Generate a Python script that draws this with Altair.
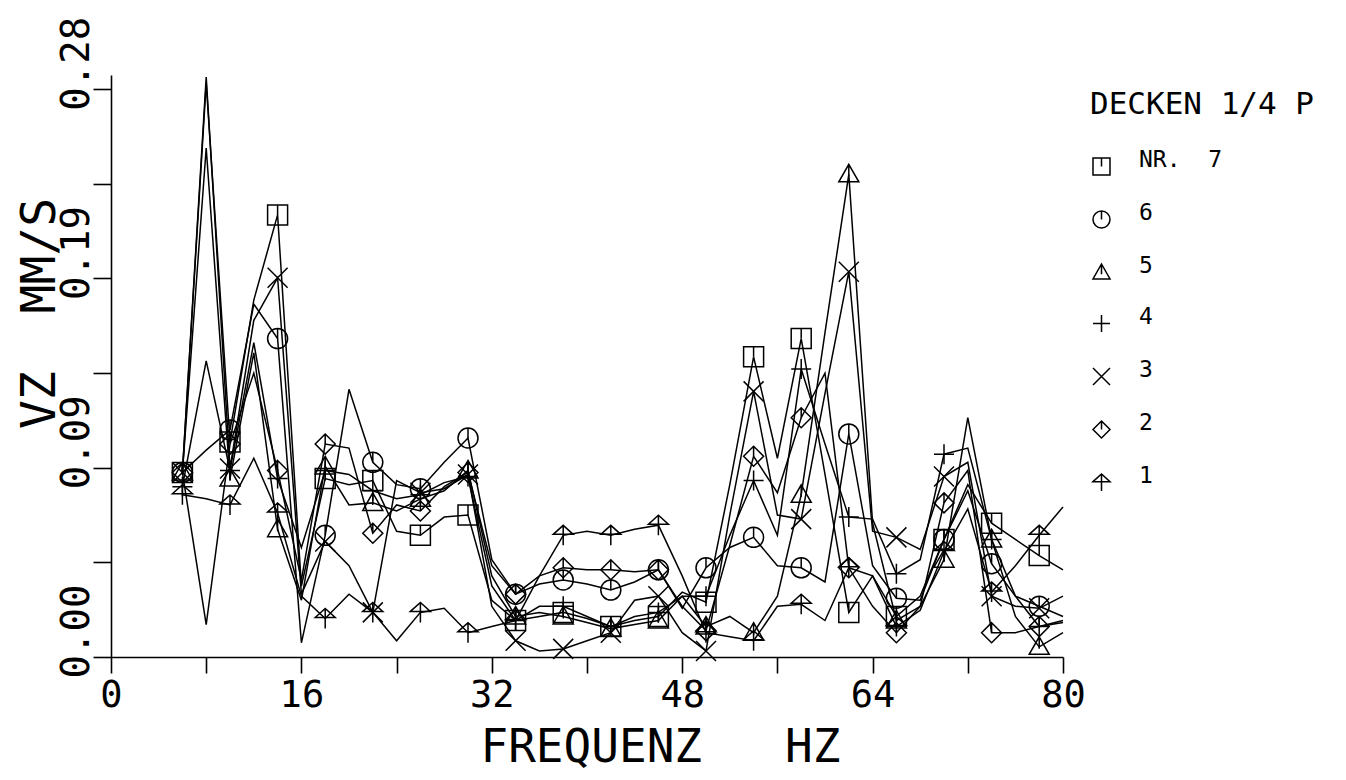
import altair as alt
import pandas as pd

# Frequencies (Hz) of the measured points
FREQ = list(range(6, 81, 2))

# VZ (mm/s) per measurement point NR. 1..7, one value per frequency above
NR1 = [0.080, 0.078, 0.075, 0.098, 0.071, 0.030, 0.019, 0.031, 0.022, 0.008,
       0.022, 0.024, 0.012, 0.015, 0.018, 0.040, 0.060, 0.062, 0.060, 0.063,
       0.065, 0.040, 0.012, 0.010, 0.008, 0.025, 0.026, 0.018, 0.044, 0.040,
       0.015, 0.023, 0.052, 0.073, 0.032, 0.045, 0.060, 0.074]
NR2 = [0.091, 0.016, 0.105, 0.140, 0.092, 0.038, 0.105, 0.103, 0.061, 0.075,
       0.072, 0.084, 0.091, 0.045, 0.031, 0.040, 0.044, 0.043, 0.043, 0.042,
       0.043, 0.025, 0.013, 0.055, 0.099, 0.081, 0.118, 0.140, 0.044, 0.025,
       0.012, 0.025, 0.076, 0.092, 0.012, 0.012, 0.015, 0.017]
NR3 = [0.091, 0.286, 0.093, 0.166, 0.187, 0.031, 0.057, 0.045, 0.022, 0.087,
       0.081, 0.083, 0.090, 0.025, 0.008, 0.003, 0.004, 0.008, 0.012, 0.028,
       0.030, 0.012, 0.003, 0.070, 0.131, 0.070, 0.068, 0.130, 0.190, 0.062,
       0.059, 0.053, 0.089, 0.096, 0.030, 0.025, 0.024, 0.030]
NR4 = [0.084, 0.146, 0.092, 0.155, 0.088, 0.054, 0.092, 0.090, 0.082, 0.078,
       0.080, 0.086, 0.089, 0.035, 0.018, 0.025, 0.025, 0.020, 0.015, 0.020,
       0.022, 0.030, 0.030, 0.060, 0.087, 0.060, 0.142, 0.105, 0.069, 0.068,
       0.041, 0.048, 0.100, 0.103, 0.058, 0.030, 0.015, 0.018]
NR5 = [0.091, 0.251, 0.088, 0.150, 0.063, 0.028, 0.094, 0.075, 0.076, 0.072,
       0.078, 0.082, 0.092, 0.040, 0.020, 0.022, 0.020, 0.017, 0.014, 0.016,
       0.018, 0.030, 0.015, 0.020, 0.012, 0.030, 0.080, 0.160, 0.238, 0.066,
       0.018, 0.025, 0.048, 0.118, 0.058, 0.020, 0.005, 0.012]
NR6 = [0.091, 0.102, 0.112, 0.174, 0.157, 0.007, 0.060, 0.132, 0.096, 0.085,
       0.083, 0.096, 0.108, 0.048, 0.031, 0.036, 0.038, 0.036, 0.033, 0.037,
       0.043, 0.024, 0.044, 0.054, 0.059, 0.045, 0.044, 0.037, 0.110, 0.045,
       0.029, 0.028, 0.058, 0.082, 0.046, 0.030, 0.025, 0.020]
NR7 = [0.091, 0.283, 0.106, 0.176, 0.218, 0.035, 0.088, 0.085, 0.087, 0.062,
       0.060, 0.069, 0.070, 0.028, 0.018, 0.020, 0.022, 0.019, 0.015, 0.018,
       0.020, 0.032, 0.027, 0.085, 0.148, 0.098, 0.157, 0.090, 0.022, 0.040,
       0.020, 0.030, 0.058, 0.085, 0.066, 0.058, 0.050, 0.043]

SERIES_NAMES = ["7", "6", "5", "4", "3", "2", "1"]
SERIES_VALUES = [NR7, NR6, NR5, NR4, NR3, NR2, NR1]

# Plotter symbols (unit SVG paths)
SYMBOLS = [
    "M-1,-1L1,-1L1,1L-1,1Z M0,-1L0,0",                       # square
    "M-1,0A1,1,0,1,1,1,0A1,1,0,1,1,-1,0Z M0,-1L0,0",          # circle
    "M0,-1L1,0.75L-1,0.75Z M0,-1L0,0.2",                     # triangle
    "M-1,0L1,0M0,-1L0,1",                                    # plus
    "M-1,-1L1,1M-1,1L1,-1",                                  # cross
    "M0,-1L1,0L0,1L-1,0Z M0,-1L0,0",                         # diamond
    "M-1,-0.1L0,-1L1,-0.1Z M0,-1L0,1",                       # arrow
]

Y_TICKS = [k * 0.28 / 6 for k in range(7)]
X_TICKS = list(range(0, 81, 8))

NB = "\u00a0"
LEGEND_TITLE = "DECKEN 1/4 P"
X_TITLE = "FREQUENZ" + NB * 3 + "HZ"
Y_TITLE = "VZ" + NB * 2 + "MM/S"

rows = []
for name, vals in zip(SERIES_NAMES, SERIES_VALUES):
    for f, v in zip(FREQ, vals):
        rows.append({"nr": name, "f": f, "v": v})
df = pd.DataFrame(rows)

FONT = "DejaVu Sans Mono"

x_enc = alt.X(
    "f:Q",
    scale=alt.Scale(domain=[0, 80], nice=False, zero=False),
    axis=alt.Axis(
        values=X_TICKS,
        labelExpr="datum.value % 16 == 0 ? datum.label : ''",
        tickSize=16,
        labelPadding=4,
        labelFontSize=37,
        labelBaseline="top",
        title=X_TITLE,
        titleFontSize=46,
        titleX=549,
        titleY=104,
        titleAlign="center",
        titleBaseline="alphabetic",
        titleAngle=0,
    ),
)
y_enc = alt.Y(
    "v:Q",
    scale=alt.Scale(domain=[0, 0.287], nice=False, zero=True),
    axis=alt.Axis(
        values=Y_TICKS,
        labelExpr="round(datum.value / (0.28/6)) % 2 == 0 ? format(datum.value, '.2f') : ''",
        tickSize=18,
        labelPadding=5,
        labelFontSize=39,
        labelAngle=270,
        labelAlign="center",
        labelBaseline="alphabetic",
        labelOffset=-26,
        title=Y_TITLE,
        titleFontSize=48,
        titleAngle=270,
        titleX=-57,
        titleY=238,
        titleAlign="center",
        titleBaseline="alphabetic",
    ),
)

lines = alt.Chart(df).mark_line(color="black", strokeWidth=1.5, clip=False).encode(
    x=x_enc, y=y_enc, detail="nr:N", order="f:Q"
)

points = (
    alt.Chart(df)
    .transform_filter("(datum.f - 2) % 4 == 0")
    .mark_point(filled=False, color="black", strokeWidth=1.5, size=400, opacity=1, clip=False)
    .encode(
        x=x_enc,
        y=y_enc,
        shape=alt.Shape(
            "nr:N",
            scale=alt.Scale(domain=SERIES_NAMES, range=SYMBOLS),
            legend=alt.Legend(
                title=LEGEND_TITLE,
                orient="none",
                legendX=979,
                legendY=15,
                direction="vertical",
                padding=0,
                titleFont=FONT,
                titleFontSize=31,
                titleFontWeight="normal",
                titleColor="black",
                titleBaseline="top",
                titleAnchor="start",
                titlePadding=34,
                titleLimit=400,
                labelFont=FONT,
                labelFontSize=23,
                labelColor="black",
                labelBaseline="alphabetic",
                labelOffset=26,
                labelLimit=400,
                labelExpr=f"datum.label == '7' ? 'NR.{NB}{NB}7' : '{NB*5}' + datum.label",
                symbolSize=289,
                symbolStrokeWidth=1.5,
                symbolStrokeColor="black",
                symbolFillColor="transparent",
                rowPadding=23,
            ),
        ),
    )
)

chart = (
    alt.layer(lines, points)
    .properties(
        width=952,
        height=582,
        padding={"left": 103, "top": 67, "right": 270, "bottom": 115},
        autosize=alt.AutoSizeParams(type="none"),
        background="white",
    )
    .configure_view(stroke=None)
    .configure_axis(
        grid=False,
        domainColor="black",
        domainWidth=1.6,
        tickColor="black",
        tickWidth=1.6,
        labelColor="black",
        titleColor="black",
        labelFont=FONT,
        titleFont=FONT,
        titleFontWeight="normal",
        labelFlush=False,
        labelOverlap=False,
    )
)

chart.save("out.html", embed_options={"renderer": "svg", "actions": False})
